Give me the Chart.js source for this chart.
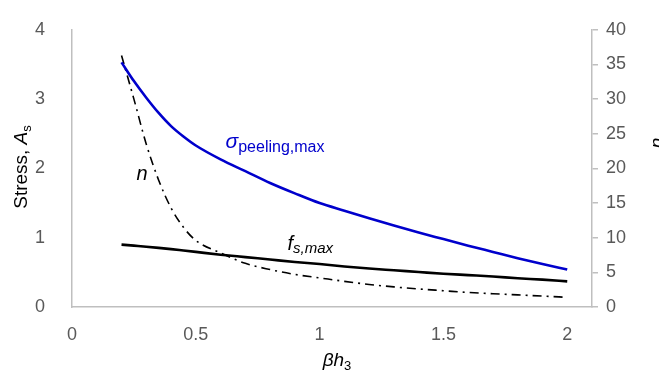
<!DOCTYPE html>
<html><head><meta charset="utf-8">
<script src="https://cdn.jsdelivr.net/npm/chart.js@4"></script>
<style>html,body{margin:0;padding:0;background:#fff}#wrap{width:659px;height:374px;position:relative}</style>
</head><body><div id="wrap"><canvas id="c" width="659" height="374"></canvas></div>
<script>
// ---- data ----
const betaH3 = [0.2, 0.25, 0.3, 0.35, 0.4, 0.45, 0.5, 0.6, 0.7, 0.8, 0.9, 1.0, 1.1, 1.2, 1.3, 1.4, 1.5, 1.6, 1.7, 1.8, 1.9, 2.0];
const sigmaPeelingMax = [3.53, 3.26, 3.02, 2.80, 2.61, 2.46, 2.33, 2.13, 1.96, 1.79, 1.64, 1.50, 1.39, 1.28, 1.175, 1.075, 0.98, 0.885, 0.795, 0.705, 0.62, 0.54];
const fsMax = [0.90, 0.885, 0.87, 0.853, 0.835, 0.815, 0.795, 0.755, 0.72, 0.685, 0.65, 0.62, 0.585, 0.555, 0.53, 0.505, 0.48, 0.46, 0.44, 0.415, 0.395, 0.37];
const nValues = [36.3, 30.0, 23.5, 18.3, 14.3, 11.5, 9.6, 7.8, 6.3, 5.4, 4.7, 4.2, 3.7, 3.25, 2.9, 2.6, 2.35, 2.1, 1.92, 1.75, 1.57, 1.4];
const xTicks = [0, 0.5, 1, 1.5, 2];
const leftTicks = [0, 1, 2, 3, 4];
const rightTicks = [0, 5, 10, 15, 20, 25, 30, 35, 40];

const FONT = "'Liberation Sans', Arial, sans-serif";
const AXIS_GRAY = '#bfbfbf';
const TICK_GRAY = '#595959';

function pts(ys) { return betaH3.map((x, i) => ({x: x, y: ys[i]})); }

// draw a run of text segments [{t, font, dy}] starting at x (left aligned)
function drawRun(ctx, segs, x, y, color) {
  ctx.fillStyle = color;
  ctx.textBaseline = 'alphabetic';
  ctx.textAlign = 'left';
  let cx = x;
  for (const s of segs) {
    ctx.font = s.font;
    ctx.fillText(s.t, cx, y + (s.dy || 0));
    cx += ctx.measureText(s.t).width;
  }
}
function runWidth(ctx, segs) {
  let w = 0;
  for (const s of segs) { ctx.font = s.font; w += ctx.measureText(s.t).width; }
  return w;
}

const labelsPlugin = {
  id: 'labels',
  afterDraw(chart) {
    const ctx = chart.ctx;
    const xs = chart.scales.x, y = chart.scales.y;
    ctx.save();
    // left axis title
    const leftSegs = [
      {t: 'Stress, ', font: `19px ${FONT}`},
      {t: 'A', font: `italic 19px ${FONT}`},
      {t: 's', font: `13px ${FONT}`, dy: 4}
    ];
    ctx.save();
    ctx.translate(27, 167);
    ctx.rotate(-Math.PI / 2);
    drawRun(ctx, leftSegs, -runWidth(ctx, leftSegs) / 2, 0, '#000');
    ctx.restore();
    // right axis title
    const rightSegs = [{t: 'n', font: `italic 19px ${FONT}`}];
    ctx.save();
    ctx.translate(663, 143);
    ctx.rotate(-Math.PI / 2);
    drawRun(ctx, rightSegs, -runWidth(ctx, rightSegs) / 2, 0, '#000');
    ctx.restore();
    // x axis title
    const xSegs = [
      {t: '\u03B2h', font: `italic 19px ${FONT}`},
      {t: '3', font: `13px ${FONT}`, dy: 4}
    ];
    drawRun(ctx, xSegs, (xs.left + xs.right) / 2 + 5 - runWidth(ctx, xSegs) / 2, 366, '#000');
    // series labels
    drawRun(ctx, [
      {t: '\u03C3', font: `italic 21px ${FONT}`},
      {t: 'peeling,max', font: `16px ${FONT}`, dy: 4}
    ], xs.getPixelForValue(0.62), y.getPixelForValue(2.30), '#0000CC');
    drawRun(ctx, [{t: 'n', font: `italic 20px ${FONT}`}],
      xs.getPixelForValue(0.26), y.getPixelForValue(1.83), '#000');
    drawRun(ctx, [
      {t: 'f', font: `italic 20px ${FONT}`},
      {t: 's,max', font: `italic 15px ${FONT}`, dy: 3}
    ], xs.getPixelForValue(0.87), y.getPixelForValue(0.82), '#000');
    ctx.restore();
  }
};

new Chart(document.getElementById('c'), {
  type: 'line',
  data: {
    datasets: [
      {label: 'sigma', data: pts(sigmaPeelingMax), yAxisID: 'y', borderColor: '#0000CC', borderWidth: 2.6, pointRadius: 0, cubicInterpolationMode: 'monotone', fill: false},
      {label: 'fs', data: pts(fsMax), yAxisID: 'y', borderColor: '#000', borderWidth: 2.6, pointRadius: 0, cubicInterpolationMode: 'monotone', fill: false},
      {label: 'n', data: pts(nValues), yAxisID: 'y2', borderColor: '#000', borderWidth: 1.6, borderDash: [9, 5, 2, 5], pointRadius: 0, cubicInterpolationMode: 'monotone', fill: false}
    ]
  },
  options: {
    responsive: false,
    animation: false,
    devicePixelRatio: 1,
    layout: {padding: {top: 18, left: 0, right: 0, bottom: 0}},
    plugins: {legend: {display: false}, tooltip: {enabled: false}},
    scales: {
      x: {
        type: 'linear', min: 0, max: 2.1,
        afterBuildTicks: s => { s.ticks = xTicks.map(v => ({value: v})); },
        afterFit: s => { s.height = 67; },
        grid: {display: false},
        border: {display: true, color: AXIS_GRAY, width: 1.5},
        ticks: {padding: 9, color: TICK_GRAY, font: {family: FONT, size: 18}, callback: v => String(v), maxRotation: 0, autoSkip: false}
      },
      y: {
        type: 'linear', position: 'left', min: 0, max: 4,
        afterBuildTicks: s => { s.ticks = leftTicks.map(v => ({value: v})); },
        afterFit: s => { s.width = 72; },
        grid: {display: false},
        border: {display: true, color: AXIS_GRAY, width: 1.5},
        ticks: {padding: 19, color: TICK_GRAY, font: {family: FONT, size: 18}, callback: v => String(v), autoSkip: false}
      },
      y2: {
        type: 'linear', position: 'right', min: 0, max: 40,
        afterBuildTicks: s => { s.ticks = rightTicks.map(v => ({value: v})); },
        afterFit: s => { s.width = 67; },
        grid: {display: true, drawOnChartArea: false, drawTicks: true, tickLength: 6, color: AXIS_GRAY, lineWidth: 1.5},
        border: {display: true, color: AXIS_GRAY, width: 1.5},
        ticks: {padding: 8, color: TICK_GRAY, font: {family: FONT, size: 18}, callback: v => String(v), autoSkip: false}
      }
    }
  },
  plugins: [labelsPlugin]
});
</script>
</body></html>
